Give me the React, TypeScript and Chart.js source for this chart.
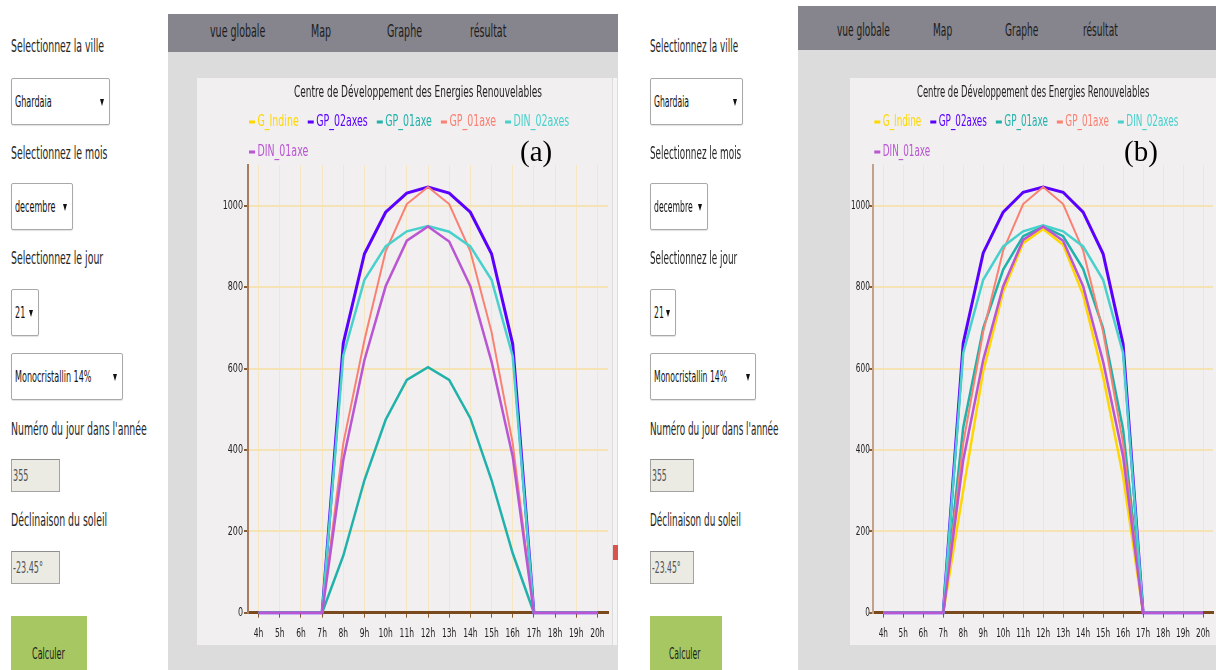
import React, { useEffect, useRef } from "react";
import { Chart, registerables } from "chart.js";
Chart.register(...registerables);

// ---------- data ----------
const hours = ["4h", "5h", "6h", "7h", "8h", "9h", "10h", "11h", "12h", "13h", "14h", "15h", "16h", "17h", "18h", "19h", "20h"];
const chartTitle = "Centre de Développement des Energies Renouvelables";
const seriesNames = ["G_Indine", "GP_02axes", "GP_01axe", "GP_01axe", "DIN_02axes", "DIN_01axe"];
const seriesColors = ["#ffd700", "#5a00ff", "#20b2aa", "#fa8072", "#48d1cc", "#ba55d3"];
const seriesWidths = [2.5, 3, 2.5, 2, 2.5, 2.5];
const yMin = 0;
const yMax = 1100;
const yStep = 200;

// panel (a) — G_Indine has no plotted values in this panel
const gIndineA = [null, null, null, null, null, null, null, null, null, null, null, null, null, null, null, null, null];
const gp02axesA = [0, 0, 0, 0, 662, 882, 984, 1031, 1046, 1031, 984, 882, 660, 0, 0, 0, 0];
const gp01axeTealA = [0, 0, 0, 0, 140, 326, 474, 572, 603, 572, 478, 326, 146, 0, 0, 0, 0];
const gp01axeSalmonA = [0, 0, 0, 0, 416, 670, 888, 1004, 1046, 1004, 888, 690, 416, 0, 0, 0, 0];
const din02axesA = [0, 0, 0, 0, 632, 818, 900, 937, 950, 936, 900, 818, 630, 0, 0, 0, 0];
const din01axeA = [0, 0, 0, 0, 375, 621, 802, 914, 949, 912, 802, 617, 384, 0, 0, 0, 0];

// panel (b)
const gIndineB = [0, 0, 0, 0, 300, 593, 789, 908, 943, 904, 781, 580, 335, 0, 0, 0, 0];
const gp02axesB = [0, 0, 0, 0, 662, 884, 984, 1033, 1046, 1033, 984, 882, 660, 0, 0, 0, 0];
const gp01axeTealB = [0, 0, 0, 0, 455, 699, 843, 925, 949, 925, 845, 699, 450, 0, 0, 0, 0];
const gp01axeSalmonB = [0, 0, 0, 0, 416, 690, 890, 1004, 1046, 1004, 890, 690, 416, 0, 0, 0, 0];
const din02axesB = [0, 0, 0, 0, 638, 818, 900, 937, 952, 937, 900, 818, 638, 0, 0, 0, 0];
const din01axeB = [0, 0, 0, 0, 375, 621, 802, 916, 949, 914, 802, 617, 384, 0, 0, 0, 0];

// form texts
const navItems = ["vue globale", "Map", "Graphe", "résultat"];
const formLabels = ["Selectionnez la ville", "Selectionnez le mois", "Selectionnez le jour", "Numéro du jour dans l'année", "Déclinaison du soleil"];
const selectValues = ["Ghardaia", "decembre", "21", "Monocristallin 14%"];
const inputValues = ["355", "-23.45°"];
const buttonText = "Calculer";

const FONT = '"Liberation Sans Narrow", "DejaVu Sans Condensed", "Arial Narrow", sans-serif';

// ---------- chart ----------
type ChartProps = {
  left: number; top: number; width: number; height: number;
  series: (number | null)[][]; yAxisWidth: number; padRight: number;
  titleScale: number; legendScale: number; xTickScale: number; yTickScale: number;
  yLabelGap: number; yBorderColor: string;
};

function CderChart(p: ChartProps) {
  const ref = useRef<HTMLCanvasElement>(null);
  useEffect(() => {
    const canvas = ref.current!;
    const textPlugin = {
      id: "cderText",
      afterDraw(chart: any) {
        const ctx = chart.ctx as CanvasRenderingContext2D;
        const ca = chart.chartArea;
        const draw = (t: string, x: number, y: number, align: CanvasTextAlign, color: string, size: number, s: number) => {
          ctx.save();
          ctx.translate(x, y);
          ctx.scale(s, 1);
          ctx.font = `${size}px ${FONT}`;
          ctx.fillStyle = color;
          ctx.textAlign = align;
          ctx.textBaseline = "middle";
          ctx.fillText(t, 0, 0);
          ctx.restore();
        };
        const measure = (t: string, size: number, s: number) => {
          ctx.save();
          ctx.font = `${size}px ${FONT}`;
          const w = ctx.measureText(t).width * s;
          ctx.restore();
          return w;
        };
        // title
        draw(chartTitle, (ca.left + ca.right) / 2 - 10, 15.5, "center", "#222", 15, p.titleScale);
        // legend
        const startX = ca.left + 1;
        let x = startX;
        let y = 44;
        chart.data.datasets.forEach((ds: any) => {
          const tw = measure(ds.label, 15, p.legendScale);
          const w = 6 + 2.5 + tw;
          if (x + w > ca.right && x > startX) {
            x = startX;
            y += 30;
          }
          ctx.fillStyle = ds.borderColor;
          ctx.fillRect(x, y - 1.5, 6, 3);
          draw(ds.label, x + 8.5, y, "left", ds.borderColor, 15, p.legendScale);
          x += w + 9;
        });
        // x tick labels
        const xs = chart.scales.x;
        xs.ticks.forEach((t: any, i: number) => {
          draw(String(xs.getLabelForValue(t.value)), xs.getPixelForTick(i), ca.bottom + 21, "center", "#222", 13, p.xTickScale);
        });
        // y tick labels
        const ys = chart.scales.y;
        ys.ticks.forEach((t: any) => {
          draw(String(t.value), ca.left - p.yLabelGap, ys.getPixelForValue(t.value), "right", "#222", 13, p.yTickScale);
        });
      },
    };

    const chart = new Chart(canvas, {
      type: "line",
      data: {
        labels: hours,
        datasets: p.series.map((d, i) => ({
          label: seriesNames[i],
          data: d,
          borderColor: seriesColors[i],
          backgroundColor: seriesColors[i],
          borderWidth: seriesWidths[i],
          pointRadius: 0,
          tension: 0,
          fill: false,
          clip: false,
          order: seriesNames.length - 1 - i,
        })),
      },
      options: {
        animation: false,
        responsive: false,
        maintainAspectRatio: false,
        layout: { padding: { top: 87, right: p.padRight, left: 0, bottom: 0 } },
        plugins: { legend: { display: false }, title: { display: false }, tooltip: { enabled: false } },
        scales: {
          x: {
            type: "category",
            offset: true,
            grid: { color: "#f6e6c2", lineWidth: 1, tickColor: "#8a5a30", tickLength: 5, offset: false },
            border: { color: "#7a4a1c", width: 3 },
            ticks: { display: false },
            afterFit: (s: any) => { s.height = 32.3; },
          },
          y: {
            min: yMin,
            max: yMax,
            ticks: { display: false, stepSize: yStep },
            afterBuildTicks: (s: any) => { s.ticks = s.ticks.filter((t: any) => t.value % yStep === 0); },
            grid: { color: "#f5e3b6", lineWidth: 2, tickColor: "#8a5a30", tickLength: 4 },
            border: { color: p.yBorderColor, width: 2 },
            afterFit: (s: any) => { s.width = p.yAxisWidth; },
          },
        },
      } as any,
      plugins: [textPlugin],
    });
    return () => chart.destroy();
  }, []);
  return (
    <div style={{ position: "absolute", left: p.left, top: p.top, width: p.width, height: p.height, background: "#f1eff0" }}>
      <canvas ref={ref} width={p.width} height={p.height} style={{ display: "block", width: p.width, height: p.height }} />
    </div>
  );
}

// ---------- html pieces ----------
function Txt({ x, y, size, s, children, color = "#262626", font = FONT }: any) {
  return (
    <div style={{ position: "absolute", left: x, top: y - size * 0.6, fontFamily: font, fontSize: size, lineHeight: `${size * 1.2}px`, color, whiteSpace: "nowrap", transform: `scaleX(${s})`, transformOrigin: "left center" }}>
      {children}
    </div>
  );
}

function Select({ x, y, w, h, text, s }: any) {
  return (
    <div style={{ position: "absolute", left: x, top: y, width: w, height: h, boxSizing: "border-box", border: "1px solid #a9a9a9", borderRadius: 2, background: "#fff", boxShadow: "0 1px 1px rgba(0,0,0,0.12)" }}>
      <Txt x={3} y={h / 2 - 1} size={16} s={s} color="#111">{text}</Txt>
      <div style={{ position: "absolute", right: 5, top: h / 2 - 4, width: 0, height: 0, borderLeft: "2.5px solid transparent", borderRight: "2.5px solid transparent", borderTop: "7px solid #111" }} />
    </div>
  );
}

function Input({ x, y, w, h, text, s }: any) {
  return (
    <div style={{ position: "absolute", left: x, top: y, width: w, height: h, boxSizing: "border-box", border: "1px solid #a3a3a3", borderTopColor: "#8e8e8e", background: "#ebebe4" }}>
      <Txt x={1} y={h / 2 - 1} size={16} s={s} color="#545454">{text}</Txt>
    </div>
  );
}

function Form({ x0, s, sSmall, selW, inW, btnW }: any) {
  return (
    <>
      <Txt x={x0} y={46} size={18} s={s}>{formLabels[0]}</Txt>
      <Select x={x0} y={78} w={selW[0]} h={47} text={selectValues[0]} s={sSmall} />
      <Txt x={x0} y={153} size={18} s={s}>{formLabels[1]}</Txt>
      <Select x={x0} y={183} w={selW[1]} h={47} text={selectValues[1]} s={sSmall} />
      <Txt x={x0} y={258} size={18} s={s}>{formLabels[2]}</Txt>
      <Select x={x0} y={289} w={selW[2]} h={47} text={selectValues[2]} s={sSmall} />
      <Select x={x0} y={353} w={selW[3]} h={47} text={selectValues[3]} s={sSmall} />
      <Txt x={x0} y={429} size={18} s={s}>{formLabels[3]}</Txt>
      <Input x={x0} y={459} w={inW} h={33} text={inputValues[0]} s={sSmall} />
      <Txt x={x0} y={520} size={18} s={s}>{formLabels[4]}</Txt>
      <Input x={x0} y={551} w={inW} h={33} text={inputValues[1]} s={sSmall} />
      <div style={{ position: "absolute", left: x0, top: 616, width: btnW, height: 60, background: "#a6c762" }}>
        <Txt x={btnW / 2 - 17} y={38} size={16} s={sSmall} color="#1e1e1e">{buttonText}</Txt>
      </div>
    </>
  );
}

function Nav({ left, top, width, height, textY, xs, s }: any) {
  return (
    <div style={{ position: "absolute", left, top, width, height, background: "#86848d" }}>
      {navItems.map((t, i) => (
        <Txt key={i} x={xs[i] - left} y={textY - top} size={18} s={s} color="#1c1c1c">{t}</Txt>
      ))}
    </div>
  );
}

export default function App() {
  return (
    <div style={{ position: "absolute", left: 0, top: 0, width: 1216, height: 670, overflow: "hidden", background: "#ffffff" }}>
      {/* panel (a) */}
      <Form x0={11} s={0.578} sSmall={0.56} selW={[99, 62, 28, 112]} inW={49} btnW={76} />
      <div style={{ position: "absolute", left: 168, top: 14, width: 450, height: 656, background: "#dcdcdc" }} />
      <Nav left={168} top={14} width={450} height={38} textY={31} xs={[210, 311, 387, 470]} s={0.587} />
      <div style={{ position: "absolute", left: 613, top: 78, width: 4, height: 567, background: "#f4f4f4" }} />
      <div style={{ position: "absolute", left: 613, top: 545, width: 5, height: 15, background: "#d9534f" }} />
      <CderChart left={197} top={78} width={415} height={567}
        series={[gIndineA, gp02axesA, gp01axeTealA, gp01axeSalmonA, din02axesA, din01axeA]}
        yAxisWidth={51} padRight={4} titleScale={0.667} legendScale={0.7} xTickScale={0.646} yTickScale={0.683}
        yLabelGap={5} yBorderColor="#a87c5c" />
      <Txt x={520} y={151} size={29} s={1} color="#000" font='"Liberation Serif", "Times New Roman", serif'>(a)</Txt>

      {/* panel (b) */}
      <Form x0={650} s={0.547} sSmall={0.534} selW={[93, 58, 26, 106]} inW={44} btnW={72} />
      <div style={{ position: "absolute", left: 798, top: 6, width: 418, height: 664, background: "#dcdcdc" }} />
      <Nav left={798} top={6} width={418} height={44} textY={30} xs={[837, 933, 1005, 1083]} s={0.56} />
      <CderChart left={850} top={78} width={366} height={567}
        series={[gIndineB, gp02axesB, gp01axeTealB, gp01axeSalmonB, din02axesB, din01axeB]}
        yAxisWidth={23.3} padRight={3} titleScale={0.625} legendScale={0.653} xTickScale={0.628} yTickScale={0.628}
        yLabelGap={3.5} yBorderColor="#c2a28c" />
      <Txt x={1124} y={151} size={29} s={1} color="#000" font='"Liberation Serif", "Times New Roman", serif'>(b)</Txt>
    </div>
  );
}
